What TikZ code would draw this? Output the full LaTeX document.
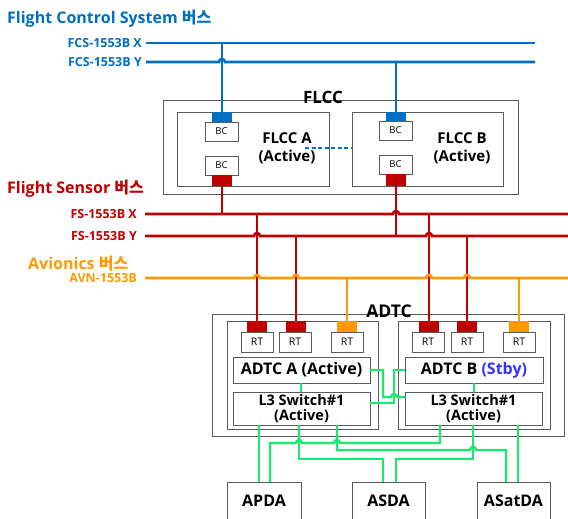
\documentclass[tikz,border=0pt]{standalone}
\usepackage{fontspec}
\setmainfont{Open Sans}
\newfontfamily\kr{Noto Sans CJK KR}
\definecolor{cblue}{HTML}{0070C0}
\definecolor{cred}{HTML}{C00000}
\definecolor{corange}{HTML}{FF9900}
\definecolor{cgreen}{RGB}{20,235,110}
\definecolor{cstby}{RGB}{51,51,255}
\definecolor{cframe}{RGB}{90,90,90}
\newcommand\bx[7][]{\node[#1,inner sep=0pt,outer sep=0pt,minimum width={(#5-#3)*1pt},minimum height={(#6-#4)*1pt}] (#2) at ({(#3+#5)/2},{(#4+#6)/2}) {#7};}
\newcommand\hop[2]{-- (#1-3,#2) arc[start angle=180,end angle=360,radius=3]}
\tikzset{
  frame/.style={draw=cframe,line width=0.9pt,fill=white},
  bl/.style={draw=cblue,line width=2.6pt},
  rd/.style={draw=cred,line width=2.6pt},
  og/.style={draw=corange,line width=2.6pt},
  gr/.style={draw=cgreen,line width=2.4pt},
  small/.style={font=\fontsize{9.5}{10}\selectfont},
  rtlab/.style={font=\fontsize{10.5}{11}\selectfont},
  title/.style={font=\bfseries\fontsize{16}{18}\selectfont,anchor=west,inner sep=0pt},
  buslab/.style={font=\bfseries\fontsize{12.5}{14}\selectfont,anchor=east,inner sep=0pt},
  big/.style={font=\bfseries\fontsize{15}{18}\selectfont,align=center,inner sep=0pt},
  l3/.style={font=\bfseries\fontsize{14.5}{15}\selectfont,align=center,inner sep=0pt},
  bot/.style={font=\bfseries\fontsize{16}{17}\selectfont,inner sep=0pt},
}
\begin{document}
\begin{tikzpicture}[x=1pt,y=-1pt]
\useasboundingbox (0,0) rectangle (568,519);
\clip (0,0) rectangle (568,519);

% ---------- titles and bus labels ----------
\node[title,text=cblue] (tfcs) at (7,19) {Flight Control System {\kr\bfseries 버스}};
\node[buslab,text=cblue] (lfx) at (142,43) {FCS-1553B X};
\node[buslab,text=cblue] (lfy) at (142,62) {FCS-1553B Y};
\node[title,text=cred] (tfs) at (7,189) {Flight Sensor {\kr\bfseries 버스}};
\node[buslab,text=cred] (lsx) at (137,214) {FS-1553B X};
\node[buslab,text=cred] (lsy) at (137,236) {FS-1553B Y};
\node[title,text=corange] (tav) at (28,264) {Avionics {\kr\bfseries 버스}};
\node[buslab,text=corange] (lav) at (137,278) {AVN-1553B};

\coordinate (fx0) at (146,43); \coordinate (fx1) at (535,43);
\coordinate (fy0) at (146,62); \coordinate (fy1) at (535,62);
\coordinate (sx0) at (145,214); \coordinate (sx1) at (568,214);
\coordinate (sy0) at (145,236); \coordinate (sy1) at (568,236);
\coordinate (av0) at (145,278); \coordinate (av1) at (568,278);

% ---------- FLCC ----------
\bx[frame]{flcc}{163}{100}{518}{194}{}
\node[font=\bfseries\fontsize{17}{18}\selectfont,inner sep=0pt] (flcclab) at (323,97) {FLCC};
\bx[frame]{flcca}{177}{112}{329}{186}{}
\bx[frame]{flccb}{352}{112}{503}{186}{}
\node[big] (flccat) at (287,148) {FLCC A\\(Active)};
\node[big] (flccbt) at (462,148) {FLCC B\\(Active)};
\bx[frame,small]{bca1}{205}{122}{238}{141}{BC}
\bx[frame,small]{bca2}{205}{156}{238}{175}{BC}
\bx[frame,small]{bcb1}{379}{121}{412}{140}{BC}
\bx[frame,small]{bcb2}{379}{155}{412}{174}{BC}
\bx[fill=cblue]{pa1}{212}{112}{232}{122}{}
\bx[fill=cred]{pa2}{212}{175}{232}{186}{}
\bx[fill=cblue]{pb1}{386}{112}{406}{121}{}
\bx[fill=cred]{pb2}{386}{174}{406}{186}{}
\coordinate (dash0) at (305,148);
\draw[cblue,line width=1.8pt,dash pattern=on 4pt off 2.5pt] (dash0) -- (dash0 -| flccb.west);

% ---------- FCS buses ----------
\draw[bl] (pa1.north |- fx0) -- (pa1.north);
\draw[bl] (pb1.north |- fy0) -- (pb1.north);
\draw[bl] (fx0) -- (fx1);
\draw[bl] (fy0) \hop{222}{62} -- (fy1);

% ---------- ADTC ----------
\bx[frame]{adtc}{212}{314}{564}{436}{}
\node[font=\bfseries\fontsize{17.5}{19}\selectfont,inner sep=0pt] (adtclab) at (389,311) {ADTC};
\bx[frame]{adtca}{227}{321}{378}{429}{}
\bx[frame]{adtcb}{398}{321}{550}{429}{}
\bx[frame,rtlab]{rta1}{241}{332}{273}{352}{RT}
\bx[frame,rtlab]{rta2}{279}{332}{311}{352}{RT}
\bx[frame,rtlab]{rta3}{331}{332}{363}{352}{RT}
\bx[frame,rtlab]{rtb1}{412}{332}{444}{352}{RT}
\bx[frame,rtlab]{rtb2}{451}{332}{483}{352}{RT}
\bx[frame,rtlab]{rtb3}{503}{332}{535}{352}{RT}
\bx[fill=cred]{qa1}{247}{321}{267}{332}{}
\bx[fill=cred]{qa2}{286}{321}{306}{332}{}
\bx[fill=corange]{qa3}{337}{321}{357}{332}{}
\bx[fill=cred]{qb1}{419}{321}{439}{332}{}
\bx[fill=cred]{qb2}{457}{321}{477}{332}{}
\bx[fill=corange]{qb3}{509}{321}{529}{332}{}
\bx[frame,big,font=\bfseries\fontsize{16}{18}\selectfont]{adA}{233}{357}{370}{383}{ADTC A (Active)}
\bx[frame,big,font=\bfseries\fontsize{16}{18}\selectfont]{adB}{405}{357}{543}{383}{ADTC B \textcolor{cstby}{(Stby)}}
\bx[frame,l3]{l3A}{233}{392}{370}{425}{L3 Switch\#1\\(Active)}
\bx[frame,l3]{l3B}{405}{392}{542}{425}{L3 Switch\#1\\(Active)}

% ---------- sensor / avionics verticals ----------
\draw[rd] (pa2.south) -- (pa2.south |- sx0);
\draw[rd] (pb2.south) -- (pb2.south |- sy0);
\draw[rd] (qa1.north |- sx0) -- (qa1.north);
\draw[rd] (qa2.north |- sy0) -- (qa2.north);
\draw[rd] (qb1.north |- sx0) -- (qb1.north);
\draw[rd] (qb2.north |- sy0) -- (qb2.north);
\draw[og] (qa3.north |- av0) -- (qa3.north);
\draw[og] (qb3.north |- av0) -- (qb3.north);
\draw[rd] (sx0) \hop{396}{214} -- (sx1);
\draw[rd] (sy0) \hop{257}{236} \hop{429}{236} -- (sy1);
\draw[og] (av0) \hop{257}{278} \hop{296}{278} \hop{429}{278} \hop{467}{278} -- (av1);

% ---------- bottom boxes ----------
\bx[frame,bot]{apda}{227}{482}{301}{520}{APDA}
\bx[frame,bot]{asda}{352}{482}{425}{520}{ASDA}
\bx[frame,bot]{asatda}{477}{482}{550}{520}{ASatDA}

% ---------- green links ----------
\draw[gr] (adA.south -| 301,0) -- (l3A.north -| 301,0);
\draw[gr] (adB.south -| 474,0) -- (l3B.north -| 474,0);
\draw[gr] (adA.east |- 0,370) -- (383,370) -- (383,397) \hop{394}{397} -- (l3B.west |- 0,397);
\draw[gr] (l3A.east |- 0,403) -- (394,403) -- (394,370) -- (adB.west |- 0,370);
\draw[gr] (l3A.south -| 259,0) -- (apda.north -| 259,0);
\draw[gr] (l3A.south -| 299,0) -- (299,459) -- (383,459) -- (asda.north -| 383,0);
\draw[gr] (l3A.south -| 337,0) -- (337,450) \hop{473}{450} -- (506,450) -- (asatda.north -| 506,0);
\draw[gr] (apda.north -| 270,0) -- (270,443) \hop{299}{443} \hop{337}{443} -- (440,443) -- (l3B.south -| 440,0);
\draw[gr] (l3B.south -| 473,0) -- (473,459) -- (396,459) -- (asda.north -| 396,0);
\draw[gr] (l3B.south -| 518,0) -- (asatda.north -| 518,0);
\end{tikzpicture}
\end{document}
